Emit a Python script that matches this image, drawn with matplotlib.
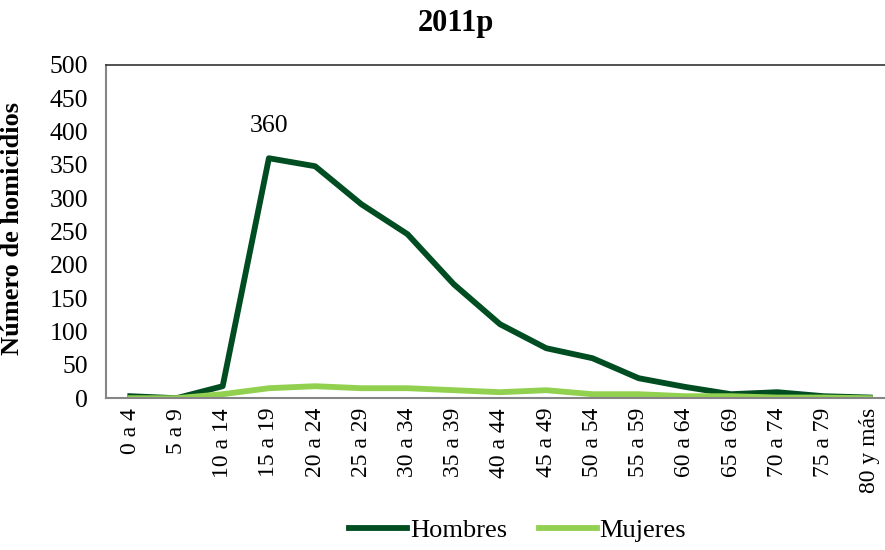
import matplotlib
matplotlib.use('Agg')
import matplotlib.pyplot as plt

# Homicidios por grupo de edad, 2011p
grupos = ['0 a 4', '5 a 9', '10 a 14', '15 a 19', '20 a 24', '25 a 29', '30 a 34',
          '35 a 39', '40 a 44', '45 a 49', '50 a 54', '55 a 59', '60 a 64',
          '65 a 69', '70 a 74', '75 a 79', '80 y más']
hombres = [3, 0, 18, 360, 348, 291, 246, 171, 111, 75, 60, 30, 17, 6, 9, 3, 1]
mujeres = [0, 0, 6, 15, 18, 15, 15, 12, 9, 12, 6, 6, 3, 3, 1, 1, 0]

plt.rcParams['font.family'] = ['Liberation Serif', 'DejaVu Serif']

fig = plt.figure(figsize=(8.85, 5.5), dpi=100)
ax = fig.add_axes([0.12, 0.276, 0.88, 0.606])

x = range(len(grupos))
ax.plot(x, hombres, color='#004D22', lw=4.2, label='Hombres')
ax.plot(x, mujeres, color='#92D050', lw=4.2, label='Mujeres')

# etiqueta del valor maximo
imax = hombres.index(max(hombres))
ax.annotate(str(hombres[imax]), (imax, hombres[imax]), xytext=(0, 15),
            textcoords='offset points', ha='center', va='bottom', fontsize=18.5)

ax.set_xlim(-0.52, 16.33)
ax.set_ylim(0, 500)
ax.set_yticks(range(0, 501, 50))
ax.set_xticks(list(x))
ax.set_xticklabels(grupos, rotation=90, fontsize=17)
ax.tick_params(axis='y', labelsize=18.5, length=0, pad=13)
ax.tick_params(axis='x', length=0, pad=7)

for s in ['left', 'bottom']:
    ax.spines[s].set_color('#868686')
    ax.spines[s].set_linewidth(1.5)
ax.spines['top'].set_color('#333333')
ax.spines['top'].set_linewidth(1.2)
ax.spines['right'].set_visible(False)

ax.set_ylabel('Número de homicidios', fontsize=19, fontweight='bold')
ax.yaxis.set_label_coords(-0.105, 0.51)
fig.text(0.515, 0.958, '2011p', ha='center', va='center', fontsize=22, fontweight='bold')

fig.legend(loc='center', bbox_to_anchor=(0.585, 0.036), ncol=2, frameon=False,
           fontsize=19, handlelength=2.2, handletextpad=0.1, columnspacing=1.2)

fig.savefig('out.png', dpi=100)
